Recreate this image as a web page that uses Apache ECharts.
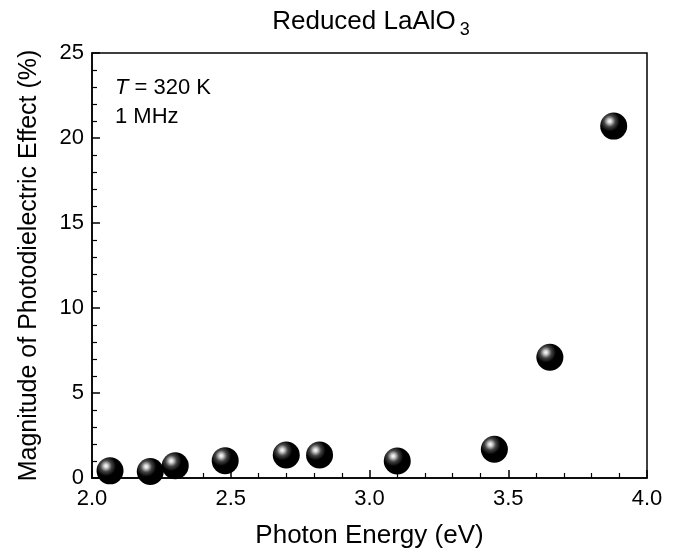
<!DOCTYPE html>
<html><head><meta charset="utf-8">
<script src="https://cdn.jsdelivr.net/npm/echarts@6/dist/echarts.min.js"></script>
<style>html,body{margin:0;padding:0;background:#fff}#c{width:684px;height:555px}</style>
</head><body><div id="c"></div>
<script>
const energy = [2.065, 2.21, 2.30, 2.48, 2.70, 2.82, 3.10, 3.45, 3.65, 3.88];
const magnitude = [0.42, 0.38, 0.72, 1.02, 1.35, 1.35, 1.0, 1.69, 7.1, 20.7];
const xTicks = [2.0, 2.5, 3.0, 3.5, 4.0];
const yTicks = [0, 5, 10, 15, 20, 25];

const chart = echarts.init(document.getElementById('c'));
const font = 'Liberation Sans, Arial, sans-serif';
const sphere = {
  type: 'radial', x: 0.35, y: 0.32, r: 0.75,
  colorStops: [
    {offset: 0, color: '#ffffff'},
    {offset: 0.1, color: '#d0d0d0'},
    {offset: 0.28, color: '#444444'},
    {offset: 0.5, color: '#000000'},
    {offset: 1, color: '#000000'}
  ]
};
chart.setOption({
  animation: false,
  title: {
    text: '{a|Reduced LaAlO}{b|3}',
    left: 366, top: 0, textAlign: 'center',
    textStyle: {
      fontWeight: 'normal',
      rich: {
        a: {fontSize: 26, fontFamily: font, color: '#000', fontWeight: 'normal'},
        b: {fontSize: 18, fontFamily: font, color: '#000', fontWeight: 'normal', padding: [16, 0, 0, 4]}
      }
    }
  },
  grid: {left: 92, right: 37, top: 53, bottom: 77, show: true, borderColor: '#000', borderWidth: 1.5},
  xAxis: {
    type: 'value', min: 2.0, max: 4.0, interval: 0.5,
    name: 'Photon Energy (eV)', nameLocation: 'middle', nameGap: 45,
    nameTextStyle: {fontSize: 26, fontFamily: font, color: '#000'},
    axisLine: {lineStyle: {color: '#000', width: 1.5}},
    axisTick: {inside: true, length: 8, lineStyle: {color: '#000', width: 1.5}},
    minorTick: {show: true, splitNumber: 5, length: 5, lineStyle: {color: '#000', width: 1.2}},
    axisLabel: {fontSize: 22, fontFamily: font, color: '#000', margin: 10,
      formatter: v => xTicks.includes(+v.toFixed(1)) ? v.toFixed(1) : ''},
    splitLine: {show: false}
  },
  yAxis: {
    type: 'value', min: 0, max: 25, interval: 5,
    name: 'Magnitude of Photodielectric Effect (%)', nameLocation: 'middle', nameGap: 50,
    nameTextStyle: {fontSize: 25, fontFamily: font, color: '#000'},
    axisLine: {lineStyle: {color: '#000', width: 1.5}},
    axisTick: {inside: true, length: 8, lineStyle: {color: '#000', width: 1.5}},
    minorTick: {show: true, splitNumber: 5, length: 5, lineStyle: {color: '#000', width: 1.2}},
    axisLabel: {fontSize: 22, fontFamily: font, color: '#000', margin: 8,
      formatter: v => yTicks.includes(v) ? String(v) : ''},
    splitLine: {show: false}
  },
  graphic: [
    {type: 'text', left: 115, top: 77, style: {
      text: '{i|T} = 320 K', fontSize: 22, fontFamily: font, fill: '#000',
      rich: {i: {fontStyle: 'italic', fontSize: 22, fontFamily: font}}}},
    {type: 'text', left: 115, top: 106, style: {text: '1 MHz', fontSize: 22, fontFamily: font, fill: '#000'}}
  ],
  series: [{
    type: 'scatter',
    data: energy.map((e, i) => [e, magnitude[i]]),
    symbol: 'circle', symbolSize: 27,
    itemStyle: {color: sphere, opacity: 1},
    clip: false
  }]
});
</script></body></html>
